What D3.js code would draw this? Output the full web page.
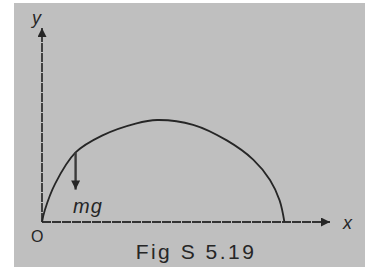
<!DOCTYPE html>
<html>
<head>
<meta charset="utf-8">
<script src="https://cdn.jsdelivr.net/npm/d3@7"></script>
<style>
  body { margin: 0; background: #fff; }
  svg { display: block; }
</style>
</head>
<body>
<div id="fig"></div>
<script>
// trajectory (arbitrary units)
var traj_x = [0, 0.12, 0.55, 1.4, 2.5, 3.9, 4.8, 6.3, 7.7, 8.8, 9.5, 9.9, 10.1];
var traj_y = [0, 0.5, 1.6, 2.9, 3.6, 4.1, 4.25, 4.05, 3.4, 2.6, 1.75, 0.9, 0];
// weight arrow mg: x position, from / to height
var force_x = [1.4];
var force_y = [2.9, 1.35];
var axis_labels = ["x", "y", "O"];
var caption = "Fig S 5.19";

var width = 365;
var height = 267;
var ink = "#262626";
var font = "Liberation Sans, Arial, sans-serif";

var svg = d3.select("#fig")
            .append("svg")
            .attr("width", width)
            .attr("height", height);

// grey scan background with white margin on left/top
svg.append("rect")
    .attr("x", 14).attr("y", 3)
    .attr("width", width - 14).attr("height", height - 3)
    .attr("fill", "#bfbfbf");

var scale_x = d3.scaleLinear().domain([0, 12]).range([42, 330]);
var scale_y = d3.scaleLinear().domain([0, 8]).range([222, 30]);

// arrow heads
var defs = svg.append("defs");
defs.append("marker")
    .attr("id", "head")
    .attr("viewBox", "0 0 10 10")
    .attr("refX", 10).attr("refY", 5)
    .attr("markerWidth", 11).attr("markerHeight", 9)
    .attr("markerUnits", "userSpaceOnUse")
    .attr("orient", "auto")
  .append("path")
    .attr("d", "M0,0 L10,5 L0,10 Z")
    .attr("fill", ink);

// axes
svg.append("line")
    .attr("x1", scale_x(0)).attr("y1", scale_y(0))
    .attr("x2", scale_x(12)).attr("y2", scale_y(0))
    .attr("stroke", "#333").attr("stroke-width", 1.8)
    .attr("stroke-dasharray", "9,1")
    .attr("marker-end", "url(#head)");
svg.append("line")
    .attr("x1", scale_x(0)).attr("y1", scale_y(0))
    .attr("x2", scale_x(0)).attr("y2", scale_y(8.08))
    .attr("stroke", "#333").attr("stroke-width", 1.8)
    .attr("stroke-dasharray", "9,1")
    .attr("marker-end", "url(#head)");

// trajectory
var line = d3.line()
    .x(function(d){ return scale_x(d[0]); })
    .y(function(d){ return scale_y(d[1]); })
    .curve(d3.curveCatmullRom);

svg.append("path")
    .datum(d3.zip(traj_x, traj_y))
    .attr("d", line)
    .attr("fill", "none")
    .attr("stroke", ink)
    .attr("stroke-width", 1.8);

// weight arrow
svg.append("line")
    .attr("x1", scale_x(force_x[0])).attr("y1", scale_y(force_y[0]))
    .attr("x2", scale_x(force_x[0])).attr("y2", scale_y(force_y[1]))
    .attr("stroke", "#3a3a3a").attr("stroke-width", 2.4)
    .attr("marker-end", "url(#head)");

svg.append("text")
    .text("mg")
    .attr("x", 73).attr("y", 213)
    .attr("font-family", font)
    .attr("font-style", "italic")
    .attr("font-size", 20)
    .attr("letter-spacing", 1)
    .attr("fill", ink);

// axis labels
svg.append("text").text(axis_labels[0])
    .attr("x", 343).attr("y", 229)
    .attr("font-family", font)
    .attr("font-style", "italic").attr("font-size", 18)
    .attr("fill", ink);
svg.append("text").text(axis_labels[1])
    .attr("x", 32).attr("y", 24)
    .attr("font-family", font)
    .attr("font-style", "italic").attr("font-size", 18)
    .attr("fill", ink);
svg.append("text").text(axis_labels[2])
    .attr("x", 31).attr("y", 242)
    .attr("font-family", font)
    .attr("font-size", 16)
    .attr("fill", ink);

svg.append("text").text(caption)
    .attr("x", 196).attr("y", 259)
    .attr("text-anchor", "middle")
    .attr("font-family", font)
    .attr("font-size", 21)
    .attr("letter-spacing", 2.5)
    .attr("fill", ink);
</script>
</body>
</html>
